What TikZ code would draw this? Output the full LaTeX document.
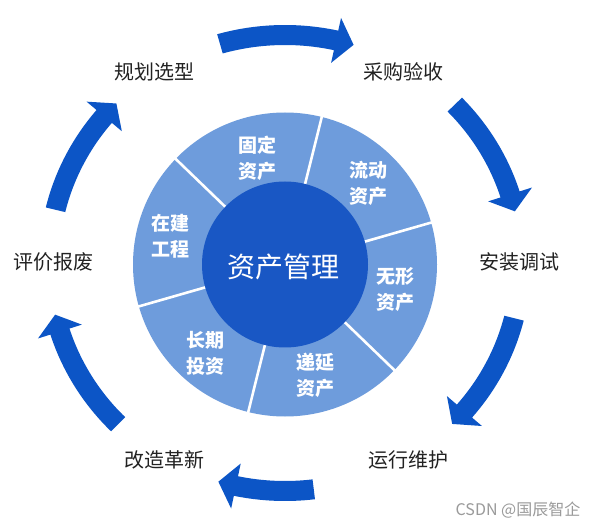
\documentclass[tikz,border=0pt]{standalone}
\usepackage{fontspec}
\setmainfont{Noto Sans CJK SC}
\usetikzlibrary{calc}
\definecolor{ringblue}{HTML}{6E9CDC}
\definecolor{coreblue}{HTML}{1957C4}
\definecolor{arrowblue}{HTML}{0C55C6}
\definecolor{labelink}{HTML}{222222}
\definecolor{markgray}{HTML}{9A9A9A}
\tikzset{
  seglabel/.style={text=white, align=center, inner sep=0pt,
    font=\fontsize{19}{26}\selectfont\bfseries},
  corelabel/.style={text=white, inner sep=0pt, font=\fontsize{28}{32}\selectfont},
  steplabel/.style={text=labelink, inner sep=0pt, font=\fontsize{20}{24}\selectfont},
  divider/.style={white, line width=2.6pt},
  marklabel/.style={text=markgray, inner sep=0pt, font=\fontsize{16}{18}\selectfont}
}
% #1 tail angle, #2 head base angle, #3 tip angle
\newcommand\cyclearrow[3]{%
  \fill[arrowblue]
    ($(A)+({246*cos(#1)},{238*sin(#1)})$)
    arc[start angle=#1, end angle=#2, x radius=246, y radius=238]
    -- ($(A)+({259*cos(#2)},{251*sin(#2)})$)
    -- ($(A)+({236*cos(#3)},{228*sin(#3)})$)
    -- ($(A)+({213*cos(#2)},{205*sin(#2)})$)
    -- ($(A)+({226*cos(#2)},{218*sin(#2)})$)
    arc[start angle=#2, end angle=#1, x radius=226, y radius=218]
    -- cycle;}
\begin{document}
\begin{tikzpicture}[x=1pt,y=1pt]
\useasboundingbox (0,0) rectangle (600,528);
\fill[white] (0,0) rectangle (600,528);
\coordinate (C) at (285,263.5);
\coordinate (A) at (285,265);
% ring
\fill[ringblue] (C) circle[radius=152];
\foreach \a in {16,76,136,196,256,316}
  \draw[divider] ($(C)+(\a:80)$) -- ($(C)+(\a:153)$);
\fill[coreblue] (C) circle[radius=83];
% segment labels
\node[seglabel] (fixed) at (257,369.5) {固定\\资产};
\node[seglabel] (current) at (368,344.5) {流动\\资产};
\node[seglabel] (intang) at (395,238) {无形\\资产};
\node[seglabel] (deferred) at (315,153) {递延\\资产};
\node[seglabel] (invest) at (205,175) {长期\\投资};
\node[seglabel] (construct) at (170,292) {在建\\工程};
\node[corelabel] (core) at (283,261) {资产管理};
% arrows
\cyclearrow{166.5}{140}{135.6}
\cyclearrow{106}{77.5}{73.1}
\cyclearrow{44}{17.5}{13.1}
\cyclearrow{-14}{-40.5}{-44.9}
\cyclearrow{-83}{-102}{-106.4}
\cyclearrow{-135}{-162.5}{-166.9}
% step labels
\node[steplabel] (plan) at (154,456) {规划选型};
\node[steplabel] (buy) at (403,456) {采购验收};
\node[steplabel] (install) at (519,266) {安装调试};
\node[steplabel] (run) at (408,68) {运行维护};
\node[steplabel] (renew) at (164,68) {改造革新};
\node[steplabel] (scrap) at (53,266) {评价报废};
\node[marklabel] (mark) at (518,18) {CSDN @国辰智企};
\end{tikzpicture}
\end{document}
